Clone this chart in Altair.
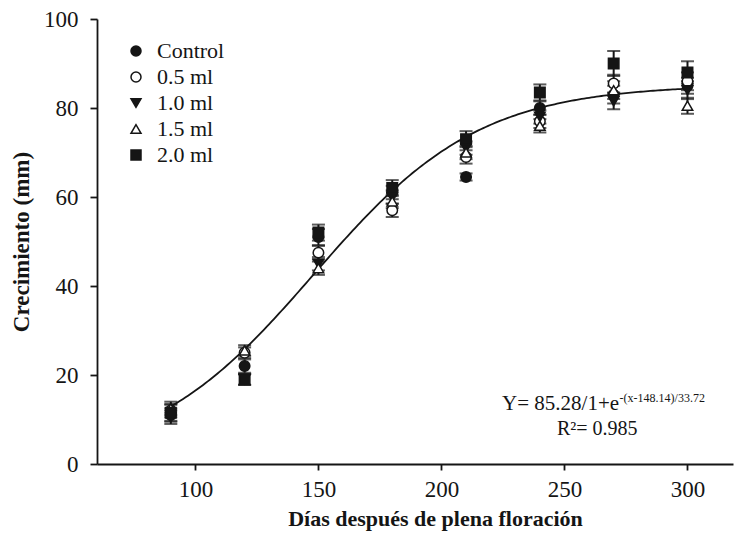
import altair as alt
import pandas as pd

# ---- data ----
days = [90, 120, 150, 180, 210, 240, 270, 300]
groups = ["Control", "0.5 ml", "1.0 ml", "1.5 ml", "2.0 ml"]
control = [11.0, 22.0, 51.0, 61.0, 64.5, 80.0, 83.0, 85.0]
ml05 = [12.0, 25.0, 47.5, 57.0, 69.0, 77.0, 85.5, 86.0]
ml10 = [10.5, 19.0, 45.0, 60.0, 71.0, 78.0, 81.5, 84.0]
ml15 = [12.5, 25.5, 44.0, 59.0, 70.0, 76.0, 84.0, 80.5]
ml20 = [11.5, 19.0, 52.0, 62.0, 73.0, 83.5, 90.0, 88.0]
err_control = [1.5, 1.5, 1.8, 1.5, 0.8, 1.5, 2.0, 1.8]
err_ml05 = [1.5, 1.2, 1.5, 1.5, 1.5, 1.5, 2.0, 2.0]
err_ml10 = [1.5, 1.2, 1.5, 1.5, 1.5, 1.5, 1.8, 2.0]
err_ml15 = [1.5, 1.2, 1.5, 1.5, 1.5, 1.5, 2.0, 1.8]
err_ml20 = [1.8, 1.2, 1.8, 1.8, 1.8, 1.8, 2.8, 2.5]

# fitted model printed on the chart
A, X0, B = 85.28, 148.14, 33.72

series = [control, ml05, ml10, ml15, ml20]
errs = [err_control, err_ml05, err_ml10, err_ml15, err_ml20]
rows = []
for i, (g, vals, es) in enumerate(zip(groups, series, errs)):
    for d, v, e in zip(days, vals, es):
        rows.append({"dias": d, "grupo": g, "ord": i, "y": v, "lo": v - e, "hi": v + e})
df = pd.DataFrame(rows)

FONT = "Times New Roman, Liberation Serif, serif"
INK = "#151515"

xscale = alt.Scale(domain=[60, 318.5], nice=False, zero=False)
yscale = alt.Scale(domain=[0, 100], nice=False)

xaxis = alt.Axis(values=[100, 150, 200, 250, 300], title="Días después de plena floración",
                 grid=False, tickSize=6, labelPadding=8, titlePadding=7,
                 titleX=338, titleFontSize=22)
yaxis = alt.Axis(values=[0, 20, 40, 60, 80, 100], title="Crecimiento (mm)",
                 grid=False, tickSize=7, labelPadding=12, titlePadding=10,
                 titleFontSize=23)

base = alt.Chart(df)

x_enc = alt.X("dias:Q", scale=xscale, axis=xaxis)

rules = base.mark_rule(color=INK, strokeWidth=2).encode(
    x=x_enc, y=alt.Y("lo:Q", scale=yscale, axis=yaxis), y2="hi:Q")
cap_lo = base.mark_tick(color=INK, thickness=2, size=13, orient="horizontal").encode(
    x="dias:Q", y="lo:Q")
cap_hi = base.mark_tick(color=INK, thickness=2, size=13, orient="horizontal").encode(
    x="dias:Q", y="hi:Q")

points = base.mark_point(size=110, strokeWidth=1.5, opacity=1).encode(
    x="dias:Q",
    y="y:Q",
    shape=alt.Shape("grupo:N", sort=groups, title=None,
                    scale=alt.Scale(domain=groups,
                                    range=["circle", "circle", "triangle-down", "triangle-up", "square"])),
    fill=alt.Fill("grupo:N", sort=groups, title=None,
                  scale=alt.Scale(domain=groups,
                                  range=[INK, "white", INK, "white", INK])),
    stroke=alt.Stroke("grupo:N", sort=groups, title=None,
                      scale=alt.Scale(domain=groups, range=[INK] * 5)),
    order=alt.Order("ord:Q"),
)

curve = alt.Chart(alt.sequence(90, 300.5, 1, as_="dias")).transform_calculate(
    y=f"{A}/(1+exp(-(datum.dias-{X0})/{B}))"
).mark_line(color=INK, strokeWidth=1.8).encode(x="dias:Q", y="y:Q")

eq_main = alt.Chart(pd.DataFrame({"dias": [272.2], "y": [12.1], "t": ["Y= 85.28/1+e"]})).mark_text(
    font=FONT, fontSize=21, align="right", baseline="alphabetic", color=INK
).encode(x="dias:Q", y="y:Q", text="t:N")
eq_sup = alt.Chart(pd.DataFrame({"dias": [272.4], "y": [13.9], "t": ["-(x-148.14)/33.72"]})).mark_text(
    font=FONT, fontSize=12, align="left", baseline="alphabetic", color=INK
).encode(x="dias:Q", y="y:Q", text="t:N")
eq_r2 = alt.Chart(pd.DataFrame({"dias": [263.3], "y": [6.5], "t": ["R²= 0.985"]})).mark_text(
    font=FONT, fontSize=20, align="center", baseline="alphabetic", color=INK
).encode(x="dias:Q", y="y:Q", text="t:N")

chart = alt.layer(rules, cap_lo, cap_hi, curve, points, eq_main, eq_sup, eq_r2).properties(
    width=636, height=445,
    autosize=alt.AutoSizeParams(type="none"),
    padding={"left": 89, "top": 11, "right": 3, "bottom": 70},
    background="white",
).configure_view(stroke=None).configure_axis(
    labelFont=FONT, titleFont=FONT, labelFontSize=23, titleFontSize=24,
    titleFontWeight="bold", labelColor=INK, titleColor=INK,
    domainColor=INK, tickColor=INK, domainWidth=1.8, tickWidth=1.8,
).configure_legend(
    orient="none", legendX=28, legendY=21, padding=0,
    labelFont=FONT, labelFontSize=22, labelColor=INK,
    rowPadding=4, labelOffset=10, symbolSize=100,
    symbolStrokeWidth=1.5,
)

chart.save("out.html", embed_options={"renderer": "svg", "actions": False})
